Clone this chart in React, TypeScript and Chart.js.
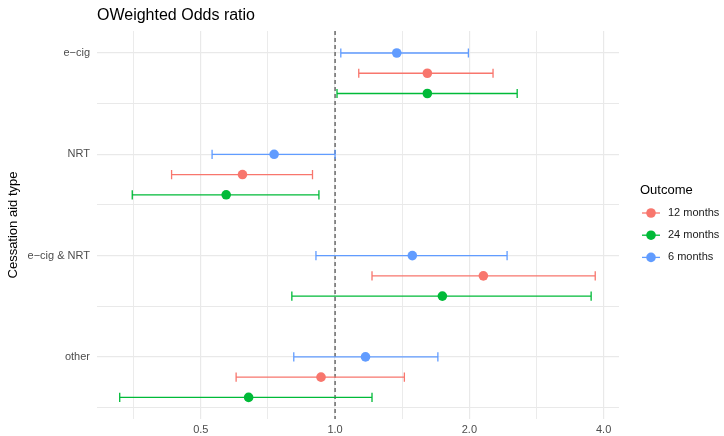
import React, { useEffect, useRef } from "react";
import { Chart, registerables } from "chart.js";
Chart.register(...registerables);

// ---- data ----
const categories = ["e−cig", "NRT", "e−cig & NRT", "other"];
const outcomes = ["12 months", "24 months", "6 months"];
const colors = ["#F8766D", "#00BA38", "#619CFF"];

const or12 = [1.61, 0.62, 2.15, 0.93];
const lo12 = [1.13, 0.43, 1.21, 0.6];
const hi12 = [2.26, 0.89, 3.83, 1.43];

const or24 = [1.61, 0.57, 1.74, 0.64];
const lo24 = [1.01, 0.351, 0.8, 0.329];
const hi24 = [2.56, 0.92, 3.75, 1.21];

const or6 = [1.375, 0.73, 1.49, 1.17];
const lo6 = [1.03, 0.53, 0.906, 0.808];
const hi6 = [1.99, 1.0, 2.43, 1.7];

const xTicks = [0.5, 1, 2, 4];
const xMinor = [0.3536, 0.7071, 1.4142, 2.8284];
const yMinor = [0.5, 1.5, 2.5, 3.5];
const refLine = 1;

const chartTitle = "OWeighted Odds ratio";
const yTitle = "Cessation aid type";
const legendTitle = "Outcome";

export default function App() {
  const ref = useRef<HTMLCanvasElement>(null);
  useEffect(() => {
    document.body.style.margin = "0";
    const FONT = '"Liberation Sans", Arial, Helvetica, sans-serif';
    const dodge = [0.2, 0.4, 0];
    const series = [
      { label: outcomes[0], color: colors[0], or: or12, lo: lo12, hi: hi12, off: dodge[0] },
      { label: outcomes[1], color: colors[1], or: or24, lo: lo24, hi: hi24, off: dodge[1] },
      { label: outcomes[2], color: colors[2], or: or6, lo: lo6, hi: hi6, off: dodge[2] },
    ];

    const forestPlugin = {
      id: "forest",
      beforeDatasetsDraw(chart: any) {
        const { ctx, chartArea, scales } = chart;
        const xs = scales.x, ys = scales.y;
        ctx.save();
        // reference line
        ctx.strokeStyle = "#555555";
        ctx.lineWidth = 1.3;
        ctx.setLineDash([4, 3]);
        const rx = xs.getPixelForValue(refLine);
        ctx.beginPath();
        ctx.moveTo(rx, chartArea.top);
        ctx.lineTo(rx, chartArea.bottom);
        ctx.stroke();
        ctx.setLineDash([]);
        // error bars
        series.forEach((s) => {
          ctx.strokeStyle = s.color;
          ctx.lineWidth = 1.3;
          s.or.forEach((_, i) => {
            const y = ys.getPixelForValue(i + s.off);
            const x1 = xs.getPixelForValue(s.lo[i]);
            const x2 = xs.getPixelForValue(s.hi[i]);
            ctx.beginPath();
            ctx.moveTo(x1, y);
            ctx.lineTo(x2, y);
            ctx.moveTo(x1, y - 4.6);
            ctx.lineTo(x1, y + 4.6);
            ctx.moveTo(x2, y - 4.6);
            ctx.lineTo(x2, y + 4.6);
            ctx.stroke();
          });
        });
        ctx.restore();
      },
      afterDraw(chart: any) {
        const { ctx, chartArea } = chart;
        ctx.save();
        ctx.fillStyle = "#000";
        ctx.font = `16px ${FONT}`;
        ctx.textAlign = "left";
        ctx.textBaseline = "alphabetic";
        ctx.fillText(chartTitle, chartArea.left, 20);
        // legend
        ctx.font = `13px ${FONT}`;
        ctx.textBaseline = "middle";
        ctx.fillText(legendTitle, 640, 190);
        ctx.font = `11px ${FONT}`;
        series.forEach((s, k) => {
          const y = 213 + k * 22.2;
          ctx.strokeStyle = s.color;
          ctx.lineWidth = 1.3;
          ctx.beginPath();
          ctx.moveTo(642, y);
          ctx.lineTo(660, y);
          ctx.stroke();
          ctx.fillStyle = s.color;
          ctx.beginPath();
          ctx.arc(651, y, 4.8, 0, Math.PI * 2);
          ctx.fill();
          ctx.fillStyle = "#1a1a1a";
          ctx.fillText(s.label, 668, y);
        });
        ctx.restore();
      },
    };

    const chart = new Chart(ref.current!, {
      type: "scatter",
      data: {
        datasets: series.map((s) => ({
          label: s.label,
          data: s.or.map((v, i) => ({ x: v, y: i + s.off })),
          backgroundColor: s.color,
          borderColor: s.color,
          pointRadius: 4.8,
          pointHoverRadius: 4.8,
          pointBorderWidth: 0,
        })),
      },
      options: {
        animation: false,
        responsive: false,
        maintainAspectRatio: false,
        layout: { padding: { top: 31, right: 105, bottom: 0, left: 0 } },
        plugins: { legend: { display: false }, tooltip: { enabled: false }, title: { display: false } },
        scales: {
          x: {
            type: "logarithmic",
            min: 0.2926,
            max: 4.33,
            afterBuildTicks: (scale: any) => {
              scale.ticks = [...xMinor, ...xTicks].sort((a, b) => a - b).map((v) => ({ value: v }));
            },
            afterFit: (scale: any) => {
              scale.height = 17;
            },
            border: { display: false },
            grid: {
              drawTicks: false,
              color: "#e9e9e9",
              lineWidth: (c: any) => (xTicks.includes(c.tick?.value) ? 1.2 : 0.9),
            },
            ticks: {
              autoSkip: false,
              maxRotation: 0,
              padding: 4,
              color: "#4d4d4d",
              font: { family: FONT, size: 11 },
              callback: (v: any) => (xTicks.includes(Number(v)) ? Number(v).toFixed(1) : ""),
            },
          },
          y: {
            type: "linear",
            reverse: true,
            min: -0.217,
            max: 3.613,
            afterBuildTicks: (scale: any) => {
              scale.ticks = [...categories.map((_, i) => i), ...yMinor].sort((a, b) => a - b).map((v) => ({ value: v }));
            },
            afterFit: (scale: any) => {
              scale.width = 97;
            },
            border: { display: false },
            grid: {
              drawTicks: false,
              color: "#e9e9e9",
              lineWidth: (c: any) => (Number.isInteger(c.tick?.value) ? 1.2 : 1.0),
            },
            ticks: {
              autoSkip: false,
              padding: 7,
              color: "#4d4d4d",
              font: { family: FONT, size: 11 },
              callback: (v: any) => (Number.isInteger(Number(v)) ? categories[Number(v)] : ""),
            },
            title: {
              display: true,
              text: yTitle,
              color: "#000",
              font: { family: FONT, size: 13 },
              padding: { top: 6, bottom: 0 },
            },
          },
        },
      },
      plugins: [forestPlugin],
    } as any);
    return () => chart.destroy();
  }, []);
  return (
    <div style={{ position: "absolute", left: 0, top: 0, width: 724, height: 436 }}>
      <canvas ref={ref} width={724} height={436} style={{ width: 724, height: 436 }} />
    </div>
  );
}
